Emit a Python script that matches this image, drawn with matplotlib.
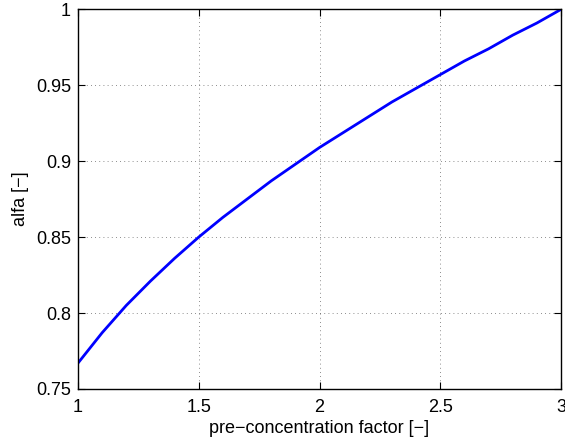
#!/usr/bin/env python3
import matplotlib
matplotlib.use('Agg')
from matplotlib import pyplot as plt

factor = [1.0, 1.1, 1.2, 1.3, 1.4, 1.5, 1.6, 1.7, 1.8, 1.9, 2.0,
          2.1, 2.2, 2.3, 2.4, 2.5, 2.6, 2.7, 2.8, 2.9, 3.0]
alfa = [0.767, 0.787, 0.805, 0.821, 0.836, 0.850, 0.863, 0.875, 0.887, 0.898, 0.909,
        0.919, 0.929, 0.939, 0.948, 0.957, 0.966, 0.974, 0.983, 0.991, 1.000]
xticks = [1, 1.5, 2, 2.5, 3]
yticks = [0.75, 0.8, 0.85, 0.9, 0.95, 1]

plt.rcParams['font.family'] = ['Liberation Sans', 'DejaVu Sans']

fig = plt.figure(figsize=(5.65, 4.45), dpi=100)
ax = fig.add_axes([0.138, 0.126, 0.855, 0.853])
ax.plot(factor, alfa, color='#0000ff', linewidth=2)

ax.set_xlim(1, 3)
ax.set_ylim(0.75, 1)
ax.set_xticks(xticks)
ax.set_xticklabels(['1', '1.5', '2', '2.5', '3'])
ax.set_yticks(yticks)
ax.set_yticklabels(['0.75', '0.8', '0.85', '0.9', '0.95', '1'])
ax.tick_params(direction='in', top=True, right=True, labelsize=13, length=5, width=0.8)
ax.tick_params(axis='x', pad=7)
ax.tick_params(axis='y', pad=5)
ax.grid(True, linestyle=(0, (1, 4)), color='black', linewidth=0.6, alpha=0.6)
for s in ax.spines.values():
    s.set_linewidth(1.0)

ax.set_xlabel('pre\u2212concentration factor [\u2212]', fontsize=13, labelpad=3)
ax.set_ylabel('alfa [\u2212]', fontsize=13, labelpad=5)

fig.savefig('out.png', dpi=100)
